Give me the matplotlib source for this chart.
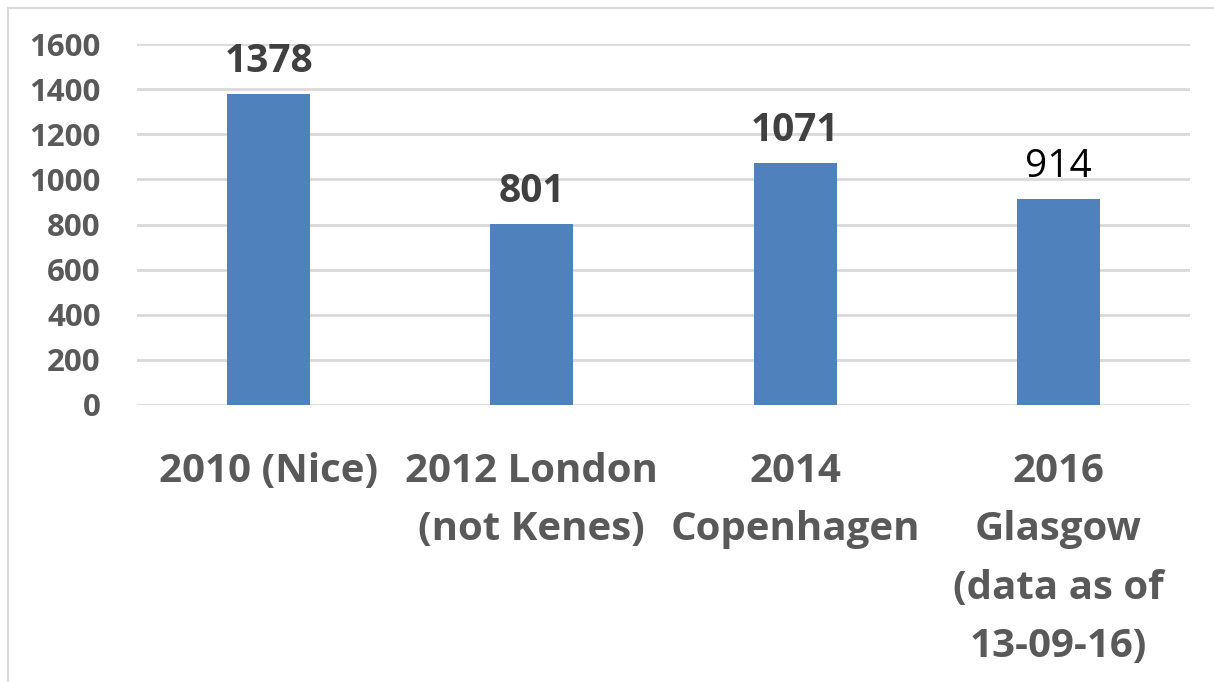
import matplotlib.pyplot as plt
from matplotlib.patches import Rectangle

# datos del grafico
categorias = ["2010 (Nice)", "2012 London\n(not Kenes)", "2014\nCopenhagen",
              "2016\nGlasgow\n(data as of\n13-09-16)"]
valores = [1378, 801, 1071, 914]
negrita = [True, True, True, False]   # la etiqueta de 914 no va en negrita
yticks = [0, 200, 400, 600, 800, 1000, 1200, 1400, 1600]

plt.rcParams['font.family'] = ['Open Sans', 'DejaVu Sans']

W, H = 1214, 682
fig = plt.figure(figsize=(W / 100, H / 100), dpi=100)

# marco gris claro del grafico (recortado a la derecha y abajo)
fig.patches.append(Rectangle((8 / W, -0.1), 1.2, (H - 8) / H + 0.1,
                             transform=fig.transFigure, fill=False,
                             edgecolor='#D9D9D9', linewidth=1.5))

ax = fig.add_axes([137 / W, 277 / H, 1053 / W, 361 / H])
xs = range(len(valores))
ax.bar(xs, valores, width=0.315, color='#4F81BD', zorder=3)

ax.set_xlim(-0.5, len(valores) - 0.5)
ax.set_ylim(0, 1600)
ax.set_yticks(yticks)
ax.set_yticklabels([str(t) for t in yticks], fontsize=22.5, fontweight='bold',
                   color='#595959')
ax.tick_params(axis='y', length=0, pad=26)
ax.set_xticks(list(xs))
ax.set_xticklabels(categorias, fontsize=29, fontweight='bold', color='#595959',
                   linespacing=1.64)
ax.tick_params(axis='x', length=0, pad=34)

ax.grid(axis='y', color='#D9D9D9', linewidth=2, zorder=0)
for s in ax.spines.values():
    s.set_visible(False)

for x, v, b in zip(xs, valores, negrita):
    ax.annotate(str(v), (x, v), xytext=(0, 16), textcoords='offset points',
                ha='center', va='baseline', fontsize=28,
                fontweight='bold' if b else 'normal',
                color='#404040' if b else '#000000')

fig.savefig('out.png', dpi=100)
